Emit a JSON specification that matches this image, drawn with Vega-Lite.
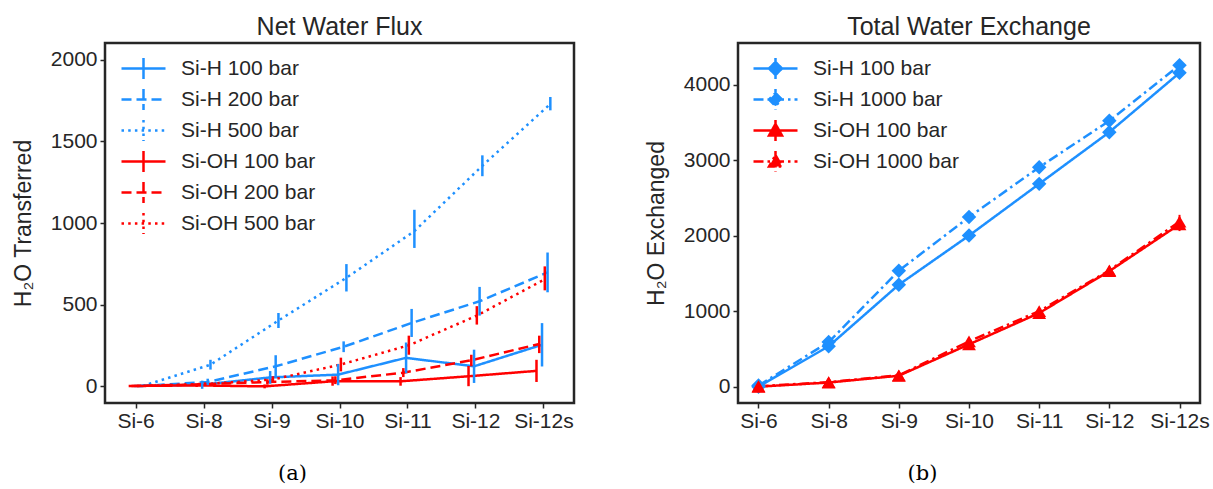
{
  "$schema": "https://vega.github.io/schema/vega-lite/v6.json",
  "background": "white",
  "padding": {"left": 11, "top": 13, "right": 3, "bottom": 3},
  "spacing": 68,
  "resolve": {
    "scale": {"color": "independent", "strokeDash": "independent", "xOffset": "independent"},
    "legend": {"color": "independent", "strokeDash": "independent"}
  },
  "config": {
    "font": "Liberation Sans",
    "view": {"stroke": "#262626", "strokeWidth": 2.5},
    "axis": {"domain": false, "grid": false, "ticks": true, "tickSize": 5, "tickWidth": 1.5, "tickColor": "#262626", "labelFontSize": 21, "labelColor": "#262626", "labelPadding": 3, "labelFont": "Liberation Sans", "titleFont": "Liberation Sans", "titleFontSize": 23, "titleFontWeight": "normal", "titleColor": "#262626"},
    "axisX": {"labelAngle": 0, "labelPadding": 2},
    "title": {"fontSize": 25, "fontWeight": "normal", "color": "#262626", "font": "Liberation Sans", "offset": 3}
  },
  "datasets": {
    "flux": [
      {"s": "Si-6", "g": "Si-H 100 bar", "v": 0, "lo": 0, "hi": 0},
      {"s": "Si-8", "g": "Si-H 100 bar", "v": 8, "lo": -17, "hi": 33},
      {"s": "Si-9", "g": "Si-H 100 bar", "v": 53, "lo": 14, "hi": 92},
      {"s": "Si-10", "g": "Si-H 100 bar", "v": 70, "lo": 5, "hi": 135},
      {"s": "Si-11", "g": "Si-H 100 bar", "v": 173, "lo": 79, "hi": 267},
      {"s": "Si-12", "g": "Si-H 100 bar", "v": 121, "lo": 19, "hi": 223},
      {"s": "Si-12s", "g": "Si-H 100 bar", "v": 253, "lo": 120, "hi": 386},
      {"s": "Si-6", "g": "Si-H 200 bar", "v": 0, "lo": 0, "hi": 0},
      {"s": "Si-8", "g": "Si-H 200 bar", "v": 25, "lo": 5, "hi": 45},
      {"s": "Si-9", "g": "Si-H 200 bar", "v": 121, "lo": 53, "hi": 189},
      {"s": "Si-10", "g": "Si-H 200 bar", "v": 241, "lo": 208, "hi": 274},
      {"s": "Si-11", "g": "Si-H 200 bar", "v": 387, "lo": 301, "hi": 473},
      {"s": "Si-12", "g": "Si-H 200 bar", "v": 520, "lo": 432, "hi": 608},
      {"s": "Si-12s", "g": "Si-H 200 bar", "v": 697, "lo": 575, "hi": 819},
      {"s": "Si-6", "g": "Si-H 500 bar", "v": 0, "lo": 0, "hi": 0},
      {"s": "Si-8", "g": "Si-H 500 bar", "v": 131, "lo": 101, "hi": 161},
      {"s": "Si-9", "g": "Si-H 500 bar", "v": 402, "lo": 356, "hi": 448},
      {"s": "Si-10", "g": "Si-H 500 bar", "v": 664, "lo": 580, "hi": 748},
      {"s": "Si-11", "g": "Si-H 500 bar", "v": 950, "lo": 847, "hi": 1081},
      {"s": "Si-12", "g": "Si-H 500 bar", "v": 1351, "lo": 1287, "hi": 1415},
      {"s": "Si-12s", "g": "Si-H 500 bar", "v": 1730, "lo": 1691, "hi": 1773},
      {"s": "Si-6", "g": "Si-OH 100 bar", "v": 0, "lo": 0, "hi": 0},
      {"s": "Si-8", "g": "Si-OH 100 bar", "v": 4, "lo": -6, "hi": 14},
      {"s": "Si-9", "g": "Si-OH 100 bar", "v": -2, "lo": -14, "hi": 10},
      {"s": "Si-10", "g": "Si-OH 100 bar", "v": 29, "lo": 2, "hi": 59},
      {"s": "Si-11", "g": "Si-OH 100 bar", "v": 29, "lo": 2, "hi": 55},
      {"s": "Si-12", "g": "Si-OH 100 bar", "v": 60, "lo": -1, "hi": 123},
      {"s": "Si-12s", "g": "Si-OH 100 bar", "v": 93, "lo": 25, "hi": 161},
      {"s": "Si-6", "g": "Si-OH 200 bar", "v": 0, "lo": 0, "hi": 0},
      {"s": "Si-8", "g": "Si-OH 200 bar", "v": 10, "lo": 0, "hi": 20},
      {"s": "Si-9", "g": "Si-OH 200 bar", "v": 25, "lo": 8, "hi": 42},
      {"s": "Si-10", "g": "Si-OH 200 bar", "v": 35, "lo": 12, "hi": 60},
      {"s": "Si-11", "g": "Si-OH 200 bar", "v": 82, "lo": 55, "hi": 110},
      {"s": "Si-12", "g": "Si-OH 200 bar", "v": 158, "lo": 121, "hi": 192},
      {"s": "Si-12s", "g": "Si-OH 200 bar", "v": 258, "lo": 202, "hi": 309},
      {"s": "Si-6", "g": "Si-OH 500 bar", "v": 0, "lo": 0, "hi": 0},
      {"s": "Si-8", "g": "Si-OH 500 bar", "v": 12, "lo": 2, "hi": 22},
      {"s": "Si-9", "g": "Si-OH 500 bar", "v": 40, "lo": 20, "hi": 60},
      {"s": "Si-10", "g": "Si-OH 500 bar", "v": 132, "lo": 90, "hi": 174},
      {"s": "Si-11", "g": "Si-OH 500 bar", "v": 250, "lo": 192, "hi": 309},
      {"s": "Si-12", "g": "Si-OH 500 bar", "v": 432, "lo": 377, "hi": 490},
      {"s": "Si-12s", "g": "Si-OH 500 bar", "v": 655, "lo": 587, "hi": 734}
    ],
    "exch": [
      {"s": "Si-6", "g": "Si-H 100 bar", "v": 0, "lo": -15, "hi": 15},
      {"s": "Si-8", "g": "Si-H 100 bar", "v": 535, "lo": 510, "hi": 560},
      {"s": "Si-9", "g": "Si-H 100 bar", "v": 1350, "lo": 1325, "hi": 1375},
      {"s": "Si-10", "g": "Si-H 100 bar", "v": 2000, "lo": 1975, "hi": 2025},
      {"s": "Si-11", "g": "Si-H 100 bar", "v": 2685, "lo": 2660, "hi": 2710},
      {"s": "Si-12", "g": "Si-H 100 bar", "v": 3370, "lo": 3345, "hi": 3395},
      {"s": "Si-12s", "g": "Si-H 100 bar", "v": 4155, "lo": 4125, "hi": 4185},
      {"s": "Si-6", "g": "Si-H 1000 bar", "v": 15, "lo": -10, "hi": 40},
      {"s": "Si-8", "g": "Si-H 1000 bar", "v": 590, "lo": 565, "hi": 615},
      {"s": "Si-9", "g": "Si-H 1000 bar", "v": 1535, "lo": 1510, "hi": 1560},
      {"s": "Si-10", "g": "Si-H 1000 bar", "v": 2245, "lo": 2220, "hi": 2270},
      {"s": "Si-11", "g": "Si-H 1000 bar", "v": 2905, "lo": 2880, "hi": 2930},
      {"s": "Si-12", "g": "Si-H 1000 bar", "v": 3520, "lo": 3495, "hi": 3545},
      {"s": "Si-12s", "g": "Si-H 1000 bar", "v": 4255, "lo": 4225, "hi": 4285},
      {"s": "Si-6", "g": "Si-OH 100 bar", "v": 0, "lo": -15, "hi": 15},
      {"s": "Si-8", "g": "Si-OH 100 bar", "v": 55, "lo": 35, "hi": 75},
      {"s": "Si-9", "g": "Si-OH 100 bar", "v": 145, "lo": 125, "hi": 165},
      {"s": "Si-10", "g": "Si-OH 100 bar", "v": 560, "lo": 535, "hi": 585},
      {"s": "Si-11", "g": "Si-OH 100 bar", "v": 975, "lo": 950, "hi": 1000},
      {"s": "Si-12", "g": "Si-OH 100 bar", "v": 1530, "lo": 1505, "hi": 1555},
      {"s": "Si-12s", "g": "Si-OH 100 bar", "v": 2150, "lo": 2060, "hi": 2240},
      {"s": "Si-6", "g": "Si-OH 1000 bar", "v": 5, "lo": -15, "hi": 25},
      {"s": "Si-8", "g": "Si-OH 1000 bar", "v": 60, "lo": 40, "hi": 80},
      {"s": "Si-9", "g": "Si-OH 1000 bar", "v": 150, "lo": 130, "hi": 170},
      {"s": "Si-10", "g": "Si-OH 1000 bar", "v": 600, "lo": 575, "hi": 625},
      {"s": "Si-11", "g": "Si-OH 1000 bar", "v": 1000, "lo": 975, "hi": 1025},
      {"s": "Si-12", "g": "Si-OH 1000 bar", "v": 1540, "lo": 1515, "hi": 1565},
      {"s": "Si-12s", "g": "Si-OH 1000 bar", "v": 2185, "lo": 2095, "hi": 2275}
    ]
  },
  "hconcat": [
    {
      "width": 469,
      "height": 360,
      "title": "Net Water Flux",
      "data": {"name": "flux"},
      "encoding": {
        "x": {"field": "s", "type": "ordinal", "scale": {"type": "point", "domain": ["Si-6", "Si-8", "Si-9", "Si-10", "Si-11", "Si-12", "Si-12s"], "padding": 0.45},
          "axis": {"title": "(a)", "titleX": 187, "titleY": 70, "titleAlign": "center", "titleBaseline": "middle", "titleFont": "DejaVu Serif", "titleFontSize": 21, "titleColor": "#000000"}},
        "xOffset": {"field": "g", "type": "nominal", "scale": {"type": "point", "domain": ["Si-OH 100 bar", "Si-OH 200 bar", "Si-H 100 bar", "Si-OH 500 bar", "Si-H 200 bar", "Si-H 500 bar"], "range": [-8.3, 8.3]}},
        "color": {"field": "g", "type": "nominal",
          "scale": {"domain": ["Si-H 100 bar", "Si-H 200 bar", "Si-H 500 bar", "Si-OH 100 bar", "Si-OH 200 bar", "Si-OH 500 bar"], "range": ["#1E90FF", "#1E90FF", "#1E90FF", "#FF0000", "#FF0000", "#FF0000"]},
          "legend": {"orient": "none", "legendX": 27, "legendY": 14, "title": null, "symbolType": "M-2.2,0H2.2M0,-1.05V1.05", "symbolSize": 400, "symbolStrokeWidth": 2.5, "labelFontSize": 21, "labelColor": "#262626", "labelOffset": 26, "rowPadding": 0, "labelLimit": 300}}
      },
      "layer": [
        {
          "mark": {"type": "line", "strokeWidth": 2.5},
          "encoding": {
            "y": {"field": "v", "type": "quantitative", "scale": {"domain": [-104, 2104], "nice": false, "zero": false}, "axis": {"values": [0, 500, 1000, 1500, 2000], "format": "d", "title": "H₂O Transferred", "titlePadding": 15}},
            "strokeDash": {"field": "g", "type": "nominal", "scale": {"domain": ["Si-H 100 bar", "Si-H 200 bar", "Si-H 500 bar", "Si-OH 100 bar", "Si-OH 200 bar", "Si-OH 500 bar"], "range": [[1, 0], [10, 5], [2.5, 4.2], [1, 0], [10, 5], [2.5, 4.2]]}}
          }
        },
        {
          "mark": {"type": "rule", "strokeWidth": 2.5},
          "encoding": {
            "y": {"field": "lo", "type": "quantitative", "title": "H₂O Transferred"},
            "y2": {"field": "hi"}
          }
        }
      ]
    },
    {
      "width": 462,
      "height": 360,
      "title": "Total Water Exchange",
      "data": {"name": "exch"},
      "encoding": {
        "x": {"field": "s", "type": "ordinal", "scale": {"type": "point", "domain": ["Si-6", "Si-8", "Si-9", "Si-10", "Si-11", "Si-12", "Si-12s"], "padding": 0.292},
          "axis": {"title": "(b)", "titleX": 184, "titleY": 70, "titleAlign": "center", "titleBaseline": "middle", "titleFont": "DejaVu Serif", "titleFontSize": 21, "titleColor": "#000000"}},
        "color": {"field": "g", "type": "nominal",
          "scale": {"domain": ["Si-H 100 bar", "Si-H 1000 bar", "Si-OH 100 bar", "Si-OH 1000 bar"], "range": ["#1E90FF", "#1E90FF", "#FF0000", "#FF0000"]},
          "legend": {"orient": "none", "legendX": 26, "legendY": 14, "title": null, "symbolType": "M-2.2,0H2.2M0,-1.05V1.05", "symbolSize": 400, "symbolStrokeWidth": 2.5, "labelFontSize": 21, "labelColor": "#262626", "labelOffset": 26, "rowPadding": 0, "labelLimit": 300,
            "encode": {"symbols": {"update": {
              "shape": {"signal": "indexof(datum.value, 'Si-H') == 0 ? 'M-2.2,0H2.2M0,-1.05V1.05M0,-0.65L0.65,0L0,0.65L-0.65,0Z' : 'M-2.2,0H2.2M0,-1.05V1.05M0,-0.65L0.65,0.5L-0.65,0.5Z'"},
              "fill": {"signal": "indexof(datum.value, 'Si-H') == 0 ? '#1E90FF' : '#FF0000'"},
              "stroke": {"signal": "indexof(datum.value, 'Si-H') == 0 ? '#1E90FF' : '#FF0000'"},
              "strokeWidth": {"value": 2.5},
              "opacity": {"value": 1}
            }}}}}
      },
      "layer": [
        {
          "mark": {"type": "line", "strokeWidth": 2.5},
          "encoding": {
            "y": {"field": "v", "type": "quantitative", "scale": {"domain": [-216, 4550], "nice": false, "zero": false}, "axis": {"values": [0, 1000, 2000, 3000, 4000], "format": "d", "title": "H₂O Exchanged", "titlePadding": 15}},
            "strokeDash": {"field": "g", "type": "nominal", "scale": {"domain": ["Si-H 100 bar", "Si-H 1000 bar", "Si-OH 100 bar", "Si-OH 1000 bar"], "range": [[1, 0], [10, 4, 2.5, 4], [1, 0], [10, 4, 2.5, 4]]}}
          }
        },
        {
          "mark": {"type": "rule", "strokeWidth": 2},
          "encoding": {
            "y": {"field": "lo", "type": "quantitative", "title": "H₂O Exchanged"},
            "y2": {"field": "hi"}
          }
        },
        {
          "transform": [{"filter": "indexof(datum.g, 'Si-H') == 0"}],
          "mark": {"type": "point", "shape": "diamond", "filled": true, "opacity": 1, "size": 210},
          "encoding": {
            "y": {"field": "v", "type": "quantitative", "title": "H₂O Exchanged"}
          }
        },
        {
          "transform": [{"filter": "indexof(datum.g, 'Si-OH') == 0"}],
          "mark": {"type": "point", "shape": "triangle-up", "filled": true, "opacity": 1, "size": 190},
          "encoding": {
            "y": {"field": "v", "type": "quantitative", "title": "H₂O Exchanged"}
          }
        }
      ]
    }
  ]
}
